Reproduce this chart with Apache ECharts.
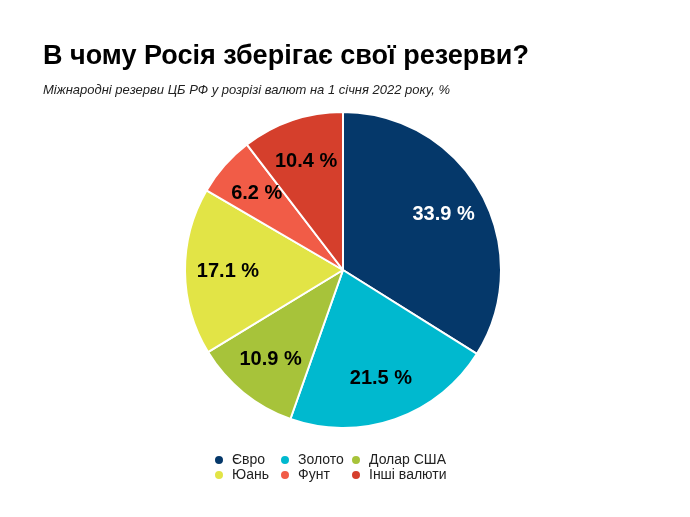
<!DOCTYPE html>
<html><head><meta charset="utf-8">
<script src="https://cdn.jsdelivr.net/npm/echarts@6/dist/echarts.min.js"></script>
<style>html,body{margin:0;padding:0;background:#fff}#c{width:690px;height:517px}</style>
</head><body><div id="c"></div>
<script>
const categories = ['Євро', 'Золото', 'Долар США', 'Юань', 'Фунт', 'Інші валюти'];
const values = [33.9, 21.5, 10.9, 17.1, 6.2, 10.4];
const colors = ['#05386a', '#00b9cf', '#a7c33a', '#e2e446', '#f15c47', '#d53f2c'];
const labelColors = ['#ffffff', '#000000', '#000000', '#000000', '#000000', '#000000'];
const legendCols = [['Євро', 'Юань'], ['Золото', 'Фунт'], ['Долар США', 'Інші валюти']];
const legendLefts = [208, 274, 345];

const font = 'Liberation Sans, Arial, sans-serif';
const chart = echarts.init(document.getElementById('c'));
const data = categories.map((n, i) => ({ name: n, value: values[i], itemStyle: { color: colors[i] } }));
const labelData = categories.map((n, i) => ({ name: n, value: values[i], label: { color: labelColors[i] } }));

chart.setOption({
  animation: false,
  color: colors,
  title: [
    { text: 'В чому Росія зберігає свої резерви?', left: 38, top: 38,
      textStyle: { fontFamily: font, fontSize: 27, fontWeight: 'bold', color: '#000' } },
    { text: 'Міжнародні резерви ЦБ РФ у розрізі валют на 1 січня 2022 року, %', left: 38, top: 79,
      textStyle: { fontFamily: font, fontSize: 13, fontStyle: 'italic', fontWeight: 'normal', color: '#222' } }
  ],
  legend: legendCols.map((col, i) => ({
    data: col, orient: 'vertical', left: legendLefts[i], top: 448,
    icon: 'circle', itemWidth: 10, itemHeight: 10, itemGap: 1,
    textStyle: { fontFamily: font, fontSize: 14, lineHeight: 14, color: '#222', padding: [0, 0, 0, 3] }
  })),
  series: [
    { type: 'pie', center: [343, 270], radius: [0, 158], startAngle: 90, clockwise: true,
      data: data, label: { show: false }, labelLine: { show: false },
      itemStyle: { borderColor: '#fff', borderWidth: 2 }, emphasis: { disabled: true } },
    { type: 'pie', center: [343, 270], radius: [66, 158], startAngle: 90, clockwise: true,
      silent: true, data: labelData,
      itemStyle: { color: 'transparent', borderWidth: 0 },
      label: { show: true, position: 'inside', formatter: p => p.value.toFixed(1) + ' %',
        fontFamily: font, fontSize: 20, fontWeight: 'bold' },
      labelLine: { show: false }, emphasis: { disabled: true } }
  ]
});
</script></body></html>
